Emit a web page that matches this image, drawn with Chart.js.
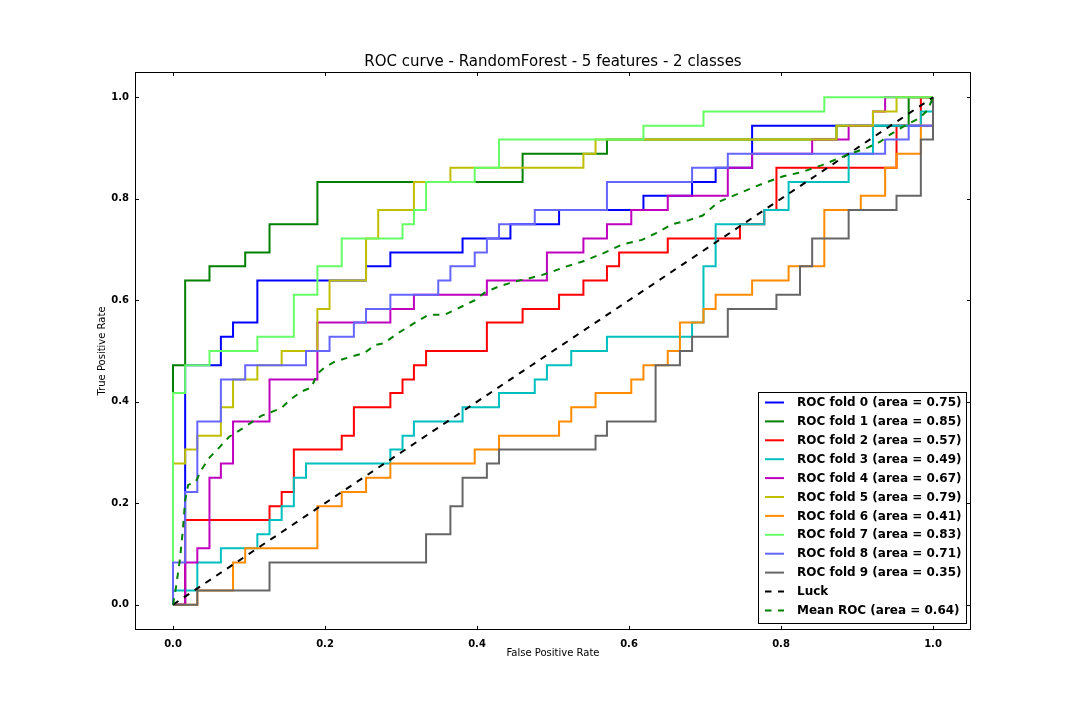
<!DOCTYPE html>
<html>
<head>
<meta charset="utf-8">
<script src="https://cdn.jsdelivr.net/npm/chart.js@4.4.0/dist/chart.umd.min.js"></script>
<style>
  html, body { margin: 0; padding: 0; background: #fff; }
  canvas { display: block; }
</style>
</head>
<body>
<canvas id="chart" width="1080" height="720"></canvas>
<script>
// step corners of every fold (x = FPR, y = TPR)
const fpr0 = [0, 0.016, 0.063, 0.079, 0.111, 0.254, 0.286, 0.381, 0.444, 0.508, 0.619, 0.683, 0.714, 0.762, 1];
const tpr0 = [0, 0.472, 0.528, 0.556, 0.639, 0.667, 0.694, 0.722, 0.75, 0.778, 0.806, 0.833, 0.861, 0.944, 1];

const fpr1 = [0, 0, 0.016, 0.048, 0.095, 0.127, 0.19, 0.46, 0.571, 0.873, 0.968, 1];
const tpr1 = [0, 0.472, 0.639, 0.667, 0.694, 0.75, 0.833, 0.889, 0.917, 0.944, 1, 1];

const fpr2 = [0, 0.016, 0.127, 0.143, 0.159, 0.222, 0.238, 0.286, 0.302, 0.317, 0.333, 0.413, 0.46, 0.508, 0.54, 0.571, 0.587, 0.651, 0.746, 0.778, 0.794, 0.952, 0.984, 1];
const tpr2 = [0, 0.167, 0.194, 0.222, 0.306, 0.333, 0.389, 0.417, 0.444, 0.472, 0.5, 0.556, 0.583, 0.611, 0.639, 0.667, 0.694, 0.722, 0.75, 0.778, 0.861, 0.944, 1, 1];

const fpr3 = [0, 0, 0.032, 0.063, 0.111, 0.127, 0.143, 0.159, 0.175, 0.286, 0.302, 0.317, 0.381, 0.429, 0.476, 0.492, 0.524, 0.571, 0.683, 0.698, 0.714, 0.778, 0.81, 0.889, 0.921, 0.984, 1];
const tpr3 = [0, 0.028, 0.083, 0.111, 0.139, 0.167, 0.194, 0.25, 0.278, 0.306, 0.333, 0.361, 0.389, 0.417, 0.444, 0.472, 0.5, 0.528, 0.556, 0.667, 0.75, 0.778, 0.833, 0.889, 0.944, 0.972, 1];

const fpr4 = [0, 0.016, 0.032, 0.048, 0.063, 0.079, 0.127, 0.19, 0.286, 0.317, 0.413, 0.492, 0.54, 0.571, 0.603, 0.651, 0.73, 0.762, 0.841, 0.889, 0.921, 0.937, 1];
const tpr4 = [0, 0.083, 0.111, 0.25, 0.278, 0.361, 0.444, 0.556, 0.583, 0.611, 0.639, 0.694, 0.722, 0.75, 0.778, 0.806, 0.861, 0.889, 0.917, 0.944, 0.972, 1, 1];

const fpr5 = [0, 0, 0.016, 0.032, 0.063, 0.079, 0.111, 0.143, 0.19, 0.206, 0.254, 0.27, 0.317, 0.365, 0.54, 0.556, 0.873, 0.921, 0.952, 1];
const tpr5 = [0, 0.278, 0.306, 0.333, 0.389, 0.444, 0.472, 0.5, 0.583, 0.639, 0.722, 0.778, 0.833, 0.861, 0.889, 0.917, 0.944, 0.972, 1, 1];

const fpr6 = [0, 0.032, 0.079, 0.095, 0.19, 0.222, 0.254, 0.286, 0.397, 0.429, 0.508, 0.524, 0.556, 0.603, 0.619, 0.651, 0.667, 0.698, 0.714, 0.762, 0.81, 0.857, 0.905, 0.937, 0.952, 0.984, 1];
const tpr6 = [0, 0.028, 0.083, 0.111, 0.194, 0.222, 0.25, 0.278, 0.306, 0.333, 0.361, 0.389, 0.417, 0.444, 0.472, 0.5, 0.556, 0.583, 0.611, 0.639, 0.667, 0.778, 0.806, 0.861, 0.889, 0.944, 1];

const fpr7 = [0, 0, 0.016, 0.048, 0.111, 0.159, 0.19, 0.222, 0.302, 0.317, 0.333, 0.397, 0.429, 0.619, 0.698, 0.857, 1];
const tpr7 = [0, 0.417, 0.472, 0.5, 0.528, 0.611, 0.667, 0.722, 0.75, 0.778, 0.833, 0.861, 0.917, 0.944, 0.972, 1, 1];

const fpr8 = [0, 0, 0.016, 0.032, 0.063, 0.095, 0.175, 0.206, 0.238, 0.254, 0.286, 0.349, 0.365, 0.397, 0.413, 0.429, 0.476, 0.571, 0.683, 0.73, 0.937, 0.968, 1];
const tpr8 = [0, 0.083, 0.222, 0.361, 0.444, 0.472, 0.5, 0.528, 0.556, 0.583, 0.611, 0.639, 0.667, 0.694, 0.722, 0.75, 0.778, 0.833, 0.861, 0.889, 0.917, 0.944, 1];

const fpr9 = [0, 0.032, 0.127, 0.333, 0.365, 0.381, 0.413, 0.429, 0.556, 0.571, 0.635, 0.667, 0.683, 0.73, 0.794, 0.825, 0.841, 0.889, 0.952, 0.984, 1];
const tpr9 = [0, 0.028, 0.083, 0.139, 0.194, 0.25, 0.278, 0.306, 0.333, 0.361, 0.472, 0.5, 0.528, 0.583, 0.611, 0.667, 0.722, 0.778, 0.806, 0.917, 1];

const foldAuc = [0.75, 0.85, 0.57, 0.49, 0.67, 0.79, 0.41, 0.83, 0.71, 0.35];

// diagonal and the averaged curve
const luckFpr = [0, 1];
const luckTpr = [0, 1];

const meanFpr = [0, 0.004, 0.009, 0.013, 0.016, 0.02, 0.03, 0.037, 0.048, 0.061, 0.074, 0.087, 0.098, 0.116, 0.13, 0.142, 0.155, 0.169, 0.182, 0.19, 0.2, 0.213, 0.235, 0.252, 0.266, 0.277, 0.296, 0.31, 0.323, 0.336, 0.358, 0.375, 0.397, 0.41, 0.428, 0.45, 0.468, 0.486, 0.5, 0.516, 0.538, 0.565, 0.591, 0.617, 0.635, 0.657, 0.679, 0.697, 0.718, 0.745, 0.776, 0.802, 0.828, 0.855, 0.886, 0.914, 0.93, 0.944, 0.957, 0.969, 0.982, 0.993, 1];
const meanTpr = [0, 0.035, 0.088, 0.147, 0.206, 0.236, 0.242, 0.265, 0.29, 0.31, 0.331, 0.343, 0.354, 0.372, 0.38, 0.387, 0.405, 0.42, 0.428, 0.455, 0.468, 0.479, 0.489, 0.496, 0.512, 0.515, 0.535, 0.548, 0.56, 0.571, 0.572, 0.584, 0.6, 0.615, 0.627, 0.637, 0.643, 0.65, 0.657, 0.666, 0.676, 0.692, 0.71, 0.719, 0.732, 0.75, 0.758, 0.767, 0.794, 0.811, 0.83, 0.844, 0.853, 0.867, 0.886, 0.901, 0.912, 0.927, 0.939, 0.949, 0.959, 0.975, 1];
const meanAuc = 0.64;

const xTicks = [0, 0.2, 0.4, 0.6, 0.8, 1.0];
const yTicks = [0, 0.2, 0.4, 0.6, 0.8, 1.0];

const foldColors = ['#0000ff', '#008000', '#ff0000', '#00bfbf', '#bf00bf', '#bfbf00', '#ff8c00', '#66ff66', '#6666ff', '#666666'];

const folds = [[fpr0, tpr0], [fpr1, tpr1], [fpr2, tpr2], [fpr3, tpr3], [fpr4, tpr4],
               [fpr5, tpr5], [fpr6, tpr6], [fpr7, tpr7], [fpr8, tpr8], [fpr9, tpr9]];

const toPoints = (xs, ys) => xs.map((x, n) => ({ x: x, y: ys[n] }));

// later folds sit on top, like matplotlib draws them
// 'before' = go along at the old tpr, then jump up at the new fpr
const datasets = folds.map(([f, t], k) => ({
    label: 'ROC fold ' + k + ' (area = ' + foldAuc[k].toFixed(2) + ')',
    data: toPoints(f, t),
    borderColor: foldColors[k],
    borderWidth: 2,
    stepped: 'before',
    pointRadius: 0,
    fill: false,
    order: 20 - k
}));

datasets.push({
    label: 'Luck',
    data: toPoints(luckFpr, luckTpr),
    borderColor: '#000000',
    borderWidth: 2,
    borderDash: [6.5, 6.5],
    pointRadius: 0,
    fill: false,
    order: 2
});

datasets.push({
    label: 'Mean ROC (area = ' + meanAuc.toFixed(2) + ')',
    data: toPoints(meanFpr, meanTpr),
    borderColor: '#008000',
    borderWidth: 2,
    borderDash: [6.5, 6.5],
    pointRadius: 0,
    fill: false,
    order: 1
});

// frame with inward ticks on all four sides + the boxed legend in the corner
const frameAndLegend = {
    id: 'frameAndLegend',
    afterDatasetsDraw(chart) {
        const { ctx, chartArea: a, scales } = chart;
        ctx.save();
        ctx.strokeStyle = '#000';
        ctx.lineWidth = 1;
        ctx.setLineDash([]);
        ctx.strokeRect(a.left + 0.5, a.top + 0.5, a.right - a.left - 1, a.bottom - a.top - 1);

        ctx.beginPath();
        xTicks.forEach(v => {
            const px = Math.round(scales.x.getPixelForValue(v)) + 0.5;
            ctx.moveTo(px, a.bottom); ctx.lineTo(px, a.bottom - 4);
            ctx.moveTo(px, a.top); ctx.lineTo(px, a.top + 4);
        });
        yTicks.forEach(v => {
            const py = Math.round(scales.y.getPixelForValue(v)) + 0.5;
            ctx.moveTo(a.left, py); ctx.lineTo(a.left + 4, py);
            ctx.moveTo(a.right, py); ctx.lineTo(a.right - 4, py);
        });
        ctx.stroke();

        // legend box
        const box = { x: 758.5, y: 392.5, w: 208, h: 231 };
        ctx.fillStyle = '#fff';
        ctx.fillRect(box.x, box.y, box.w, box.h);
        ctx.strokeRect(box.x, box.y, box.w, box.h);

        const rowH = 18.9;
        ctx.font = 'bold 12px "DejaVu Sans"';
        ctx.textBaseline = 'middle';
        ctx.textAlign = 'left';
        chart.data.datasets.forEach((ds, k) => {
            const cy = box.y + 10 + k * rowH;
            ctx.strokeStyle = ds.borderColor;
            ctx.lineWidth = 2;
            ctx.setLineDash(ds.borderDash || []);
            ctx.beginPath();
            ctx.moveTo(765, cy);
            ctx.lineTo(784, cy);
            ctx.stroke();
            ctx.fillStyle = '#000';
            ctx.fillText(ds.label, 797, cy + 0.5);
        });
        ctx.restore();
    }
};

const tickFont = { family: 'DejaVu Sans', size: 10, weight: 'bold' };
const labelFont = { family: 'DejaVu Sans', size: 10, weight: 'normal' };

new Chart(document.getElementById('chart'), {
    type: 'line',
    data: { datasets: datasets },
    options: {
        responsive: false,
        animation: false,
        devicePixelRatio: 1,
        layout: { padding: { left: 0, right: 109, top: 0, bottom: 0 } },
        plugins: {
            legend: { display: false },
            tooltip: { enabled: false },
            title: {
                display: true,
                fullSize: false,
                text: 'ROC curve - RandomForest - 5 features - 2 classes',
                color: '#000',
                font: { family: 'DejaVu Sans', size: 15, weight: 'normal' },
                padding: { top: 53, bottom: 1 }
            }
        },
        scales: {
            x: {
                type: 'linear',
                min: -0.05,
                max: 1.05,
                afterBuildTicks: s => { s.ticks = xTicks.map(v => ({ value: v })); },
                afterFit: s => { s.height = 90; },
                grid: { display: false, drawTicks: false },
                border: { display: false },
                ticks: {
                    padding: 8,
                    color: '#000',
                    font: tickFont,
                    autoSkip: false,
                    maxRotation: 0,
                    callback: v => v.toFixed(1)
                },
                title: {
                    display: true,
                    text: 'False Positive Rate',
                    color: '#000',
                    font: labelFont,
                    padding: { top: 0, bottom: 61 }
                }
            },
            y: {
                type: 'linear',
                min: -0.05,
                max: 1.05,
                afterBuildTicks: s => { s.ticks = yTicks.map(v => ({ value: v })); },
                afterFit: s => { s.width = 135; },
                grid: { display: false, drawTicks: false },
                border: { display: false },
                ticks: {
                    padding: 6,
                    color: '#000',
                    font: tickFont,
                    autoSkip: false,
                    callback: v => v.toFixed(1)
                },
                title: {
                    display: true,
                    text: 'True Positive Rate',
                    color: '#000',
                    font: labelFont,
                    padding: { top: 96, bottom: 0 }
                }
            }
        }
    },
    plugins: [frameAndLegend]
});
</script>
</body>
</html>
